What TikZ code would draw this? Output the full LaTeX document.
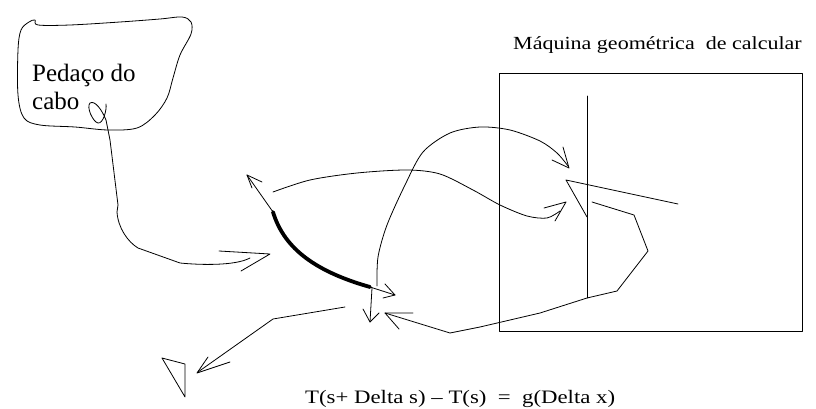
\documentclass[tikz,border=0pt]{standalone}
\usepackage{fontspec}
\setmainfont{Liberation Serif}
\usepackage{graphicx}
\usetikzlibrary{positioning}

\begin{document}
\begin{tikzpicture}[
    x=1pt, y=-1pt,
    pen/.style={line width=0.8pt, line cap=round, line join=round},
    heavy/.style={line width=3.8pt, line cap=round},
    handtext/.style={inner sep=0pt, anchor=base west}
]
\useasboundingbox (0,0) rectangle (816,409);

% pedaco do cabo
\draw[pen] plot[smooth cycle, tension=0.55] coordinates {
  (18,50) (21,30) (29,22) (35,20) (38,25) (70,25) (120,22) (160,19)
  (182,17) (191,22) (191,34) (180,55) (173,78) (167,98) (155,115)
  (137,128) (108,130) (75,127) (40,125) (24,118) (18,95)};
\node[handtext] (piece) at (32,82) {\fontsize{25}{28}\selectfont Pedaço do};
\node[handtext] (cabo) at (32,110) {\fontsize{25}{28}\selectfont cabo};

% fio ate a curva
\draw[pen] (106,104) .. controls (107,110) and (103,124) .. (98,123)
  .. controls (93,122) and (86,107) .. (90,103)
  .. controls (95,100) and (102,110) .. (106,120)
  -- (110,140) -- (118,205) -- (117,212)
  .. controls (118,228) and (128,242) .. (138,248) -- (180,263)
  .. controls (200,265) and (235,266) .. (250,258);
\draw[pen] (219,251) -- (270,254) -- (241,271);

% a curva (pedaco grosso)
\coordinate (cstart) at (273,212);
\coordinate (cend) at (370,287);
\draw[heavy] (cstart) .. controls (283,245) and (310,270) .. (cend);
\draw[pen] (cstart) -- (247,175);
\draw[pen] (262,182) -- (247,175) -- (252,188);
\draw[pen] (cend) -- (395,295);
\draw[pen] (385,284) -- (395,295) -- (383,298);
\draw[pen] (372,288) -- (370,322);
\draw[pen] (363,309) -- (370,322) -- (379,313);

% seta para o triangulo
\draw[pen] (345,307) -- (273,319) -- (198,372);
\draw[pen] (208,357) -- (197,373) -- (230,362);
\draw[pen] (162,358) -- (185,364) -- (185,397) -- cycle;

% setas para a maquina
\draw[pen] plot[smooth] coordinates {(377,286) (378,257) (387,225) (405,185)
  (423,152) (450,133) (480,127) (510,130) (540,141) (557,153) (568,166)};
\draw[pen] (552,160) -- (569,168) -- (563,147);
\draw[pen] plot[smooth] coordinates {(273,192) (310,180) (357,173) (407,170)
  (440,174) (473,190) (500,205) (527,216) (547,218) (560,211)};
\draw[pen] (544,208) -- (566,202) -- (555,221);

% maquina geometrica
\draw[pen] (499,73) rectangle (802,331);
\node[handtext] (title) at (513,50)
  {\scalebox{1.19}[1]{\fontsize{18.5}{20}\selectfont Máquina geométrica\ \ de calcular}};
\draw[pen] (587,96) -- (587,298);
\draw[pen] (678,204) -- (566,180) -- (587,217);
\draw[pen] (592,202) -- (634,215) -- (648,251) -- (617,291) -- (587,298)
  -- (540,313) -- (480,327) -- (450,333) -- (385,313);
\draw[pen] (413,313) -- (385,313) -- (399,329);

% relacao
\node[handtext] (law) at (305,403.5)
  {\scalebox{1.2}[1]{\fontsize{19}{21}\selectfont T(s+ Delta s) – T(s)\ \ =\ \ g(Delta x)}};
\end{tikzpicture}
\end{document}
